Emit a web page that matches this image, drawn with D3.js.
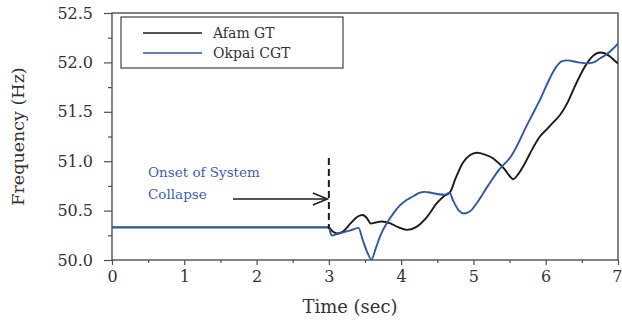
<!DOCTYPE html>
<html>
<head>
<meta charset="utf-8">
<script src="https://cdn.jsdelivr.net/npm/d3@7/dist/d3.min.js"></script>
<style>
  html, body { margin: 0; padding: 0; background: #fff; }
  svg { display: block; }
  text { font-family: "DejaVu Serif", serif; }
</style>
</head>
<body>
<svg id="chart" width="622" height="324"></svg>
<script>
// Generator frequency after the disturbance (time in s, frequency in Hz)
const afamTime = [0, 2.9, 3.0, 3.05, 3.12, 3.2, 3.3, 3.4, 3.47, 3.53, 3.58, 3.65, 3.73, 3.85, 3.95, 4.08, 4.2, 4.35, 4.5, 4.6, 4.68, 4.75, 4.85, 4.95, 5.05, 5.15, 5.27, 5.35, 5.43, 5.5, 5.55, 5.62, 5.72, 5.82, 5.92, 6.01, 6.1, 6.2, 6.3, 6.38, 6.47, 6.57, 6.66, 6.75, 6.82, 6.89, 6.95, 7.0];
const afamFreq = [50.33, 50.33, 50.33, 50.29, 50.268, 50.29, 50.37, 50.44, 50.455, 50.42, 50.37, 50.38, 50.39, 50.37, 50.335, 50.305, 50.33, 50.43, 50.58, 50.65, 50.69, 50.82, 50.98, 51.06, 51.085, 51.07, 51.03, 50.98, 50.92, 50.85, 50.818, 50.87, 50.99, 51.13, 51.25, 51.32, 51.39, 51.47, 51.59, 51.72, 51.86, 51.99, 52.07, 52.1, 52.09, 52.06, 52.02, 51.99];

const okpaiTime = [0, 2.9, 3.0, 3.02, 3.04, 3.15, 3.3, 3.41, 3.47, 3.53, 3.59, 3.65, 3.72, 3.8, 3.9, 3.98, 4.08, 4.17, 4.25, 4.33, 4.42, 4.52, 4.6, 4.67, 4.72, 4.8, 4.87, 4.95, 5.05, 5.2, 5.35, 5.53, 5.64, 5.71, 5.8, 5.92, 6.05, 6.15, 6.22, 6.3, 6.45, 6.57, 6.66, 6.75, 6.84, 6.92, 7.0];
const okpaiFreq = [50.33, 50.33, 50.33, 50.28, 50.248, 50.27, 50.30, 50.325, 50.2, 50.08, 50.005, 50.12, 50.26, 50.37, 50.48, 50.55, 50.61, 50.645, 50.68, 50.69, 50.68, 50.665, 50.66, 50.68, 50.6, 50.5, 50.47, 50.49, 50.58, 50.75, 50.91, 51.06, 51.21, 51.32, 51.45, 51.62, 51.83, 51.96, 52.01, 52.02, 52.0, 51.99, 52.0, 52.04, 52.08, 52.13, 52.19];

const seriesNames = ["Afam GT", "Okpai CGT"];
const seriesColors = ["#1b1b1b", "#2f56a8"];

const xTicks = [0, 1, 2, 3, 4, 5, 6, 7];
const xMinorTicks = [0.5, 1.5, 2.5, 3.5, 4.5, 5.5, 6.5];
const yTicks = [50.0, 50.5, 51.0, 51.5, 52.0, 52.5];
const yMinorTicks = [50.25, 50.75, 51.25, 51.75, 52.25];

const onsetTime = 3.0;
const onsetLabel = ["Onset of System", "Collapse"];

const svg = d3.select("#chart");
const plotL = 112, plotR = 618, plotT = 13, plotB = 260;

const x = d3.scaleLinear().domain([0, 7]).range([plotL, plotR]);
const y = d3.scaleLinear().domain([50, 52.5]).range([plotB, plotT]);

const frameColor = "#505050";
const textColor = "#333";

// clip for the traces
svg.append("defs").append("clipPath").attr("id", "plot-clip")
  .append("rect").attr("x", plotL).attr("y", plotT).attr("width", plotR - plotL).attr("height", plotB - plotT);

// axes
const yAxis = svg.append("g").attr("transform", `translate(${plotL},0)`)
  .call(d3.axisLeft(y).tickValues(yTicks).tickFormat(d3.format(".1f")).tickSize(8).tickPadding(11));
const yMinor = svg.append("g").attr("transform", `translate(${plotL},0)`)
  .call(d3.axisLeft(y).tickValues(yMinorTicks).tickFormat("").tickSize(4));
const xAxis = svg.append("g").attr("transform", `translate(0,${plotB})`)
  .call(d3.axisBottom(x).tickValues(xTicks).tickFormat(d3.format("d")).tickSize(5).tickPadding(6));
const xMinor = svg.append("g").attr("transform", `translate(0,${plotB})`)
  .call(d3.axisBottom(x).tickValues(xMinorTicks).tickFormat("").tickSize(3));

[yAxis, yMinor, xAxis, xMinor].forEach(g => {
  g.select(".domain").remove();
  g.selectAll(".tick line").attr("stroke", frameColor).attr("stroke-width", 1.2);
  g.selectAll(".tick text").style("font-family", "DejaVu Serif").style("font-size", "16px").style("fill", textColor);
});
// last x label sits against the right edge of the page
xAxis.selectAll(".tick text").filter(d => d === 7).attr("text-anchor", "end").attr("x", 4);

// plot frame
svg.append("rect")
  .attr("x", plotL).attr("y", plotT).attr("width", plotR - plotL).attr("height", plotB - plotT)
  .attr("fill", "none").attr("stroke", frameColor).attr("stroke-width", 1.4);

// traces
const line = d3.line().x(d => x(d[0])).y(d => y(d[1])).curve(d3.curveMonotoneX);
const traces = [d3.zip(afamTime, afamFreq), d3.zip(okpaiTime, okpaiFreq)];
const plot = svg.append("g").attr("clip-path", "url(#plot-clip)");
traces.forEach((pts, i) => {
  plot.append("path").datum(pts)
    .attr("d", line)
    .attr("fill", "none")
    .attr("stroke", seriesColors[i])
    .attr("stroke-width", 1.9)
    .attr("stroke-linejoin", "round");
});

// onset marker: dashed vertical and arrow
svg.append("line")
  .attr("x1", x(onsetTime)).attr("x2", x(onsetTime))
  .attr("y1", 158).attr("y2", 229)
  .attr("stroke", "#1b1b1b").attr("stroke-width", 2).attr("stroke-dasharray", "7,4");

const arrowY = 199;
svg.append("line")
  .attr("x1", 233).attr("x2", x(onsetTime) - 1.5)
  .attr("y1", arrowY).attr("y2", arrowY)
  .attr("stroke", "#1b1b1b").attr("stroke-width", 1.5);
svg.append("path")
  .attr("d", `M${x(onsetTime) - 16},${arrowY - 6} L${x(onsetTime) - 1.5},${arrowY} L${x(onsetTime) - 16},${arrowY + 6}`)
  .attr("fill", "none").attr("stroke", "#1b1b1b").attr("stroke-width", 1.5);

svg.append("text")
  .attr("x", 148).attr("y", 177)
  .style("font-size", "13.5px").style("fill", "#3a5fb0")
  .selectAll("tspan").data(onsetLabel).join("tspan")
  .attr("x", 148).attr("dy", (d, i) => i === 0 ? 0 : 22)
  .text(d => d);

// legend
const legend = svg.append("g");
legend.append("rect")
  .attr("x", 121).attr("y", 17).attr("width", 222).attr("height", 51)
  .attr("fill", "#fff").attr("stroke", "#444").attr("stroke-width", 1.2);
seriesNames.forEach((name, i) => {
  const ly = 33 + i * 20;
  legend.append("line")
    .attr("x1", 143).attr("x2", 202).attr("y1", ly).attr("y2", ly)
    .attr("stroke", seriesColors[i]).attr("stroke-width", 1.6);
  legend.append("text")
    .attr("x", 213).attr("y", ly).attr("dy", "0.36em")
    .style("font-size", "14px").style("fill", textColor)
    .text(name);
});

// axis titles
svg.append("text")
  .attr("x", (plotL + plotR) / 2 - 15).attr("y", 313)
  .attr("text-anchor", "middle").style("font-size", "18px").style("fill", textColor)
  .text("Time (sec)");
svg.append("text")
  .attr("transform", `translate(24,${(plotT + plotB) / 2}) rotate(-90)`)
  .attr("text-anchor", "middle").style("font-size", "17.5px").style("fill", textColor)
  .text("Frequency (Hz)");
</script>
</body>
</html>
